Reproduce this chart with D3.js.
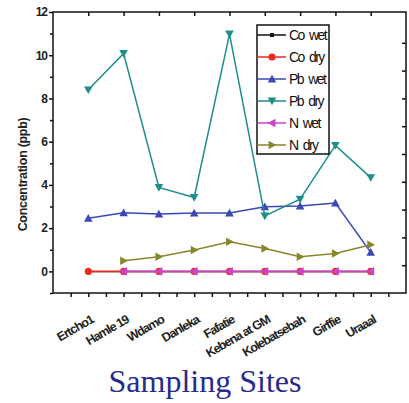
<!DOCTYPE html>
<html>
<head>
<meta charset="utf-8">
<script src="https://cdn.jsdelivr.net/npm/d3@7"></script>
<style>
  body { margin: 0; background: #fff; }
  text { font-family: Arial, "Liberation Sans", sans-serif; }
</style>
</head>
<body>
<svg class="chart"></svg>
<script>
// site names along the x axis
const sites = ['Ertcho1', 'Hamle 19', 'Wdamo', 'Danleka', 'Fafatie',
               'Kebena at GM', 'Kolebatsebah', 'Girffie', 'Uraaal'];

// concentrations (ppb), null = not plotted
const coWet = [0, 0, 0, 0, 0, 0, 0, 0, 0];
const coDry = [0, 0, 0, 0, 0, 0, 0, 0, 0];
const pbWet = [2.46, 2.71, 2.65, 2.7, 2.7, 2.99, 3.02, 3.16, 0.88];
const pbDry = [8.4, 10.08, 3.88, 3.42, 10.98, 2.57, 3.34, 5.83, 4.34];
const nWet  = [null, 0, 0, 0, 0, 0, 0, 0, 0];
const nDry  = [null, 0.49, 0.68, 0.99, 1.37, 1.06, 0.68, 0.83, 1.23];

const seriesNames = ['Co wet', 'Co dry', 'Pb wet', 'Pb dry', 'N wet', 'N dry'];
const yTicks = [0, 2, 4, 6, 8, 10, 12];

const config = {
    width: 409, height: 403,
    left: 53, right: 406, top: 12, bottom: 293
};

const series = [
    { name: seriesNames[0], values: coWet, color: '#111111', marker: 'square' },
    { name: seriesNames[1], values: coDry, color: '#f0281e', marker: 'circle' },
    { name: seriesNames[2], values: pbWet, color: '#3a47b4', marker: 'up' },
    { name: seriesNames[3], values: pbDry, color: '#1f8e8a', marker: 'down' },
    { name: seriesNames[4], values: nWet,  color: '#c944c6', marker: 'left' },
    { name: seriesNames[5], values: nDry,  color: '#86862a', marker: 'right' }
];

let svg = d3.select('.chart')
    .attr('width', config.width)
    .attr('height', config.height);

let x = d3.scaleLinear().domain([0, sites.length + 1]).range([config.left, config.right]);
let y = d3.scaleLinear().domain([-1, 12]).range([config.bottom, config.top]);
// the right border carries its own evenly spaced ticks
let yRight = d3.scaleLinear().domain([0, 10]).range([config.bottom, config.top + 3]);

function markerPath(type) {
    const s = 4.3;
    if (type === 'up') return `M0,${-s}L${s},${s * 0.8}L${-s},${s * 0.8}Z`;
    if (type === 'down') return `M0,${s}L${s},${-s * 0.8}L${-s},${-s * 0.8}Z`;
    if (type === 'left') return `M${-s},0L${s * 0.8},${s}L${s * 0.8},${-s}Z`;
    if (type === 'right') return `M${s},0L${-s * 0.8},${s}L${-s * 0.8},${-s}Z`;
    if (type === 'square') return 'M-2,-2H2V2H-2Z';
    return d3.symbol(d3.symbolCircle, 40)();
}

// axes
let bottomTicks = d3.range(0.5, sites.length + 1, 0.5);
svg.append('g')
    .attr('transform', `translate(0,${config.bottom})`)
    .call(d3.axisBottom(x).tickValues(bottomTicks).tickSize(4).tickFormat(''))
    .call(g => g.select('.domain').remove());

svg.append('g')
    .attr('transform', `translate(0,${config.top})`)
    .call(d3.axisBottom(x).tickValues(d3.range(1, sites.length + 1)).tickSize(4).tickFormat(''))
    .call(g => g.select('.domain').remove());

svg.append('g')
    .attr('transform', `translate(${config.left},0)`)
    .call(d3.axisLeft(y).tickValues(d3.range(-1, 12, 2)).tickSize(3).tickFormat(''))
    .call(g => g.select('.domain').remove());

svg.append('g')
    .attr('transform', `translate(${config.left},0)`)
    .call(d3.axisLeft(y).tickValues(yTicks).tickSize(4).tickPadding(2))
    .call(g => g.select('.domain').remove())
    .call(g => g.selectAll('text')
        .style('font-size', '12px').style('font-weight', 'bold')
        .style('letter-spacing', '-1px').attr('fill', '#222'));

svg.append('g')
    .attr('transform', `translate(${config.right},0)`)
    .call(d3.axisLeft(yRight).tickValues(d3.range(1, 10)).tickSize(4).tickFormat(''))
    .call(g => g.select('.domain').remove());

svg.selectAll('.tick line').attr('stroke', '#111').attr('stroke-width', 1.5);

// frame
svg.append('rect')
    .attr('x', config.left).attr('y', config.top)
    .attr('width', config.right - config.left)
    .attr('height', config.bottom - config.top)
    .attr('fill', 'none').attr('stroke', '#111').attr('stroke-width', 1.5);

// site labels
svg.selectAll('.site')
    .data(sites)
    .enter().append('text')
    .attr('class', 'site')
    .attr('transform', (d, i) => `translate(${x(i + 1) + 6},${config.bottom + 29}) rotate(-30)`)
    .attr('text-anchor', 'end')
    .style('font-size', '12.5px')
    .style('font-weight', 'bold')
    .style('letter-spacing', '-1px')
    .attr('fill', '#222')
    .text(d => d);

// lines and markers
let line = d3.line()
    .defined(d => d != null)
    .x((d, i) => x(i + 1))
    .y(d => y(d));

series.forEach(s => {
    svg.append('path')
        .datum(s.values)
        .attr('d', line)
        .attr('fill', 'none')
        .attr('stroke', s.color)
        .attr('stroke-width', 1.5);

    svg.selectAll(null)
        .data(s.values.map((v, i) => ({ v, i })).filter(d => d.v != null))
        .enter().append('path')
        .attr('d', markerPath(s.marker))
        .attr('transform', d => `translate(${x(d.i + 1)},${y(d.v)})`)
        .attr('fill', s.color);
});

// y label
svg.append('text')
    .attr('transform', `translate(27,${(config.top + config.bottom) / 2 + 22}) rotate(-90)`)
    .attr('text-anchor', 'middle')
    .style('font-size', '12.5px')
    .style('font-weight', 'bold')
    .style('letter-spacing', '-0.3px')
    .attr('fill', '#222')
    .text('Concentration (ppb)');

// x title
svg.append('text')
    .attr('x', 205).attr('y', 392)
    .attr('text-anchor', 'middle')
    .style('font-family', '"Liberation Serif", "DejaVu Serif", serif')
    .style('font-size', '32px')
    .attr('fill', '#282a8c')
    .text('Sampling Sites');

// legend
let legend = svg.append('g').attr('transform', 'translate(257,25)');
legend.append('rect')
    .attr('width', 72).attr('height', 129)
    .attr('fill', '#fff').attr('stroke', '#111').attr('stroke-width', 1.5);

let items = legend.selectAll('.item')
    .data(series)
    .enter().append('g')
    .attr('transform', (d, i) => `translate(0,${10 + i * 22})`);

items.append('line')
    .attr('x1', 0).attr('x2', 29)
    .attr('stroke', d => d.color).attr('stroke-width', 1.5);
items.append('path')
    .attr('d', d => markerPath(d.marker))
    .attr('transform', 'translate(15,0)')
    .attr('fill', d => d.color);
items.append('text')
    .attr('x', 32).attr('dy', '0.35em')
    .style('font-size', '14px')
    .style('letter-spacing', '-1.6px')
    .style('word-spacing', '3px')
    .attr('fill', '#111')
    .text(d => d.name);
</script>
</body>
</html>
